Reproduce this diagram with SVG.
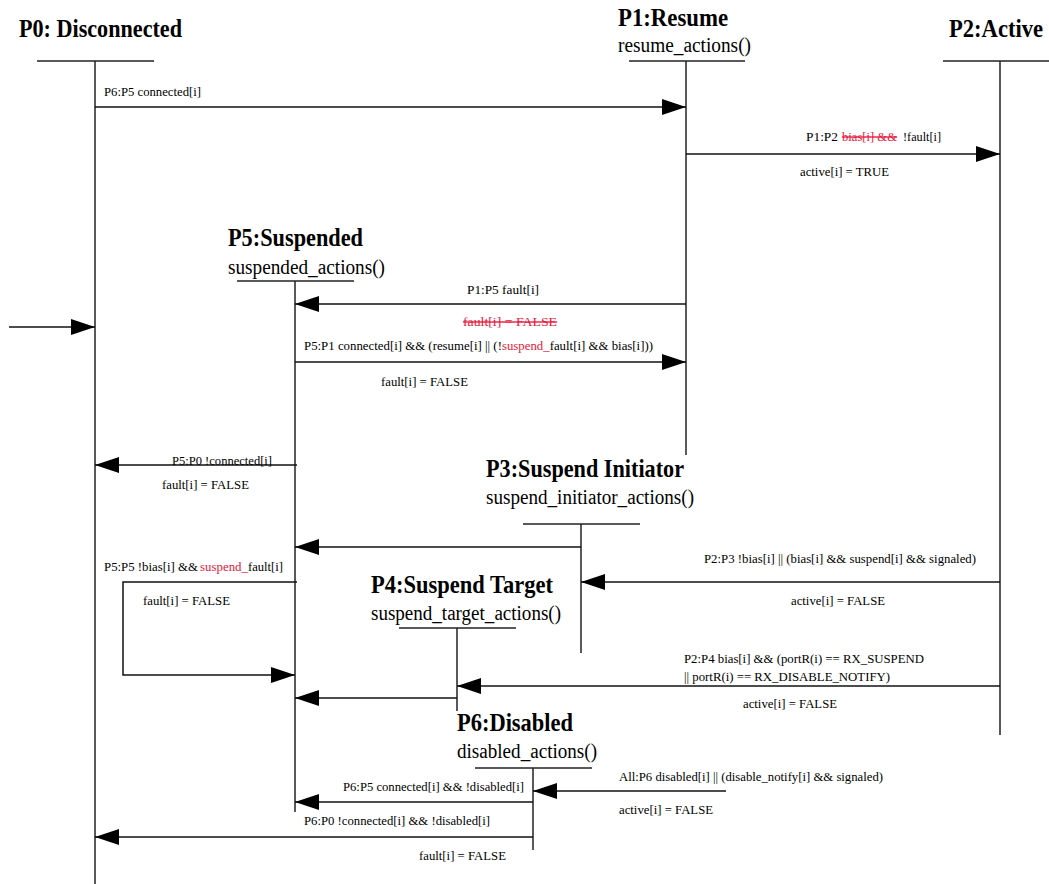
<svg xmlns="http://www.w3.org/2000/svg" width="1049" height="884" viewBox="0 0 1049 884">
<defs>
<marker id="ah" markerUnits="userSpaceOnUse" markerWidth="24" markerHeight="16" refX="24" refY="8" orient="auto">
<path d="M0,0 L24,8 L0,16 z" fill="#000"/>
</marker>
<style>
.t{font-family:"Liberation Serif","DejaVu Serif","Times New Roman",serif;font-weight:bold;font-size:26px;fill:#000}
.s{font-family:"Liberation Serif","DejaVu Serif","Times New Roman",serif;font-size:20px;fill:#000}
.l{font-family:"Liberation Serif","DejaVu Serif","Times New Roman",serif;font-size:13.5px;fill:#000}
.r{fill:#e8173c}
.x{text-decoration:line-through}
.ln{stroke:#222;stroke-width:1.5;fill:none}
.ar{stroke:#111;stroke-width:1.5;fill:none;marker-end:url(#ah)}
</style>
</defs>
<rect width="1049" height="884" fill="#fff"/>

<g id="P0">
<text class="t" x="19" y="37" textLength="163" lengthAdjust="spacingAndGlyphs">P0: Disconnected</text>
<line class="ln" x1="37" y1="61" x2="154" y2="61"/>
<line class="ln" x1="95" y1="61" x2="95" y2="884"/>
</g>

<g id="P1">
<text class="t" x="618" y="26" textLength="110" lengthAdjust="spacingAndGlyphs">P1:Resume</text>
<text class="s" x="618" y="52" textLength="133" lengthAdjust="spacingAndGlyphs">resume_actions()</text>
<line class="ln" x1="629" y1="61" x2="745" y2="61"/>
<line class="ln" x1="686" y1="61" x2="686" y2="455"/>
</g>

<g id="P2">
<text class="t" x="949" y="37" font-size="24" textLength="94" lengthAdjust="spacingAndGlyphs">P2:Active</text>
<line class="ln" x1="943" y1="61" x2="1049" y2="61"/>
<line class="ln" x1="1000" y1="61" x2="1000" y2="735"/>
</g>

<g id="P5">
<text class="t" x="228" y="246" textLength="135" lengthAdjust="spacingAndGlyphs">P5:Suspended</text>
<text class="s" x="228" y="274" textLength="157" lengthAdjust="spacingAndGlyphs">suspended_actions()</text>
<line class="ln" x1="237" y1="281" x2="354" y2="281"/>
<line class="ln" x1="295" y1="281" x2="295" y2="812"/>
</g>

<g id="P3">
<text class="t" x="486" y="477" textLength="198" lengthAdjust="spacingAndGlyphs">P3:Suspend Initiator</text>
<text class="s" x="486" y="504" textLength="208" lengthAdjust="spacingAndGlyphs">suspend_initiator_actions()</text>
<line class="ln" x1="523" y1="524" x2="640" y2="524"/>
<line class="ln" x1="581" y1="524" x2="581" y2="653"/>
</g>

<g id="P4">
<text class="t" x="371" y="593" textLength="182" lengthAdjust="spacingAndGlyphs">P4:Suspend Target</text>
<text class="s" x="371" y="620" textLength="190" lengthAdjust="spacingAndGlyphs">suspend_target_actions()</text>
<line class="ln" x1="399" y1="628" x2="516" y2="628"/>
<line class="ln" x1="457" y1="628" x2="457" y2="711"/>
</g>

<g id="P6">
<text class="t" x="457" y="731" textLength="116" lengthAdjust="spacingAndGlyphs">P6:Disabled</text>
<text class="s" x="457" y="758" textLength="140" lengthAdjust="spacingAndGlyphs">disabled_actions()</text>
<line class="ln" x1="475" y1="768" x2="592" y2="768"/>
<line class="ln" x1="533" y1="768" x2="533" y2="850"/>
</g>

<g id="connectors">
<line class="ar" x1="9" y1="327" x2="95" y2="327"/>

<line class="ar" x1="95" y1="107" x2="686" y2="107"/>
<text class="l" x="104" y="96" textLength="97" lengthAdjust="spacingAndGlyphs">P6:P5 connected[i]</text>

<line class="ar" x1="686" y1="154" x2="1000" y2="154"/>
<text class="l" x="806" y="141" textLength="32" lengthAdjust="spacingAndGlyphs">P1:P2</text>
<text class="l r x" x="842" y="141" textLength="55" lengthAdjust="spacingAndGlyphs">bias[i] &amp;&amp;</text>
<text class="l" x="903" y="141" textLength="38" lengthAdjust="spacingAndGlyphs">!fault[i]</text>
<text class="l" x="800" y="176" textLength="89" lengthAdjust="spacingAndGlyphs">active[i] = TRUE</text>

<line class="ar" x1="686" y1="304" x2="295" y2="304"/>
<text class="l" x="467" y="294" textLength="72" lengthAdjust="spacingAndGlyphs">P1:P5  fault[i]</text>
<text class="l r x" x="463" y="326" textLength="94" lengthAdjust="spacingAndGlyphs">fault[i] = FALSE</text>

<line class="ar" x1="295" y1="362" x2="686" y2="362"/>
<text class="l" x="304" y="350" textLength="349" lengthAdjust="spacingAndGlyphs">P5:P1  connected[i] &amp;&amp; (resume[i] || (!<tspan class="r">suspend_</tspan>fault[i] &amp;&amp; bias[i]))</text>
<text class="l" x="381" y="386" textLength="87" lengthAdjust="spacingAndGlyphs">fault[i] = FALSE</text>

<line class="ar" x1="297" y1="465" x2="95" y2="465"/>
<text class="l" x="172" y="465" textLength="100" lengthAdjust="spacingAndGlyphs">P5:P0 !connected[i]</text>
<text class="l" x="162" y="489" textLength="87" lengthAdjust="spacingAndGlyphs">fault[i] = FALSE</text>

<line class="ar" x1="581" y1="547" x2="295" y2="547"/>

<polyline class="ar" points="297,582 123,582 123,675 295,675"/>
<text class="l" x="104" y="571" textLength="94" lengthAdjust="spacingAndGlyphs">P5:P5 !bias[i] &amp;&amp;</text>
<text class="l r" x="200" y="571" textLength="48" lengthAdjust="spacingAndGlyphs">suspend_</text>
<text class="l" x="248" y="571" textLength="35" lengthAdjust="spacingAndGlyphs">fault[i]</text>
<text class="l" x="143" y="605" textLength="87" lengthAdjust="spacingAndGlyphs">fault[i] = FALSE</text>

<line class="ar" x1="1000" y1="582" x2="581" y2="582"/>
<text class="l" x="704" y="563" textLength="272" lengthAdjust="spacingAndGlyphs">P2:P3 !bias[i] || (bias[i] &amp;&amp; suspend[i] &amp;&amp; signaled)</text>
<text class="l" x="791" y="605" textLength="94" lengthAdjust="spacingAndGlyphs">active[i] = FALSE</text>

<line class="ar" x1="1000" y1="686" x2="457" y2="686"/>
<text class="l" x="684" y="663" textLength="240" lengthAdjust="spacingAndGlyphs">P2:P4 bias[i] &amp;&amp; (portR(i) == RX_SUSPEND</text>
<text class="l" x="684" y="681" textLength="206" lengthAdjust="spacingAndGlyphs">|| portR(i) == RX_DISABLE_NOTIFY)</text>
<text class="l" x="743" y="708" textLength="94" lengthAdjust="spacingAndGlyphs">active[i] = FALSE</text>

<line class="ar" x1="457" y1="698" x2="295" y2="698"/>

<line class="ar" x1="726" y1="791" x2="533" y2="791"/>
<text class="l" x="619" y="781" textLength="264" lengthAdjust="spacingAndGlyphs">All:P6 disabled[i] || (disable_notify[i] &amp;&amp; signaled)</text>
<text class="l" x="619" y="814" textLength="94" lengthAdjust="spacingAndGlyphs">active[i] = FALSE</text>

<line class="ar" x1="533" y1="802" x2="295" y2="802"/>
<text class="l" x="343" y="791" textLength="181" lengthAdjust="spacingAndGlyphs">P6:P5 connected[i] &amp;&amp; !disabled[i]</text>

<line class="ar" x1="533" y1="837" x2="95" y2="837"/>
<text class="l" x="304" y="825" textLength="186" lengthAdjust="spacingAndGlyphs">P6:P0 !connected[i] &amp;&amp; !disabled[i]</text>
<text class="l" x="419" y="860" textLength="87" lengthAdjust="spacingAndGlyphs">fault[i] = FALSE</text>
</g>
</svg>
